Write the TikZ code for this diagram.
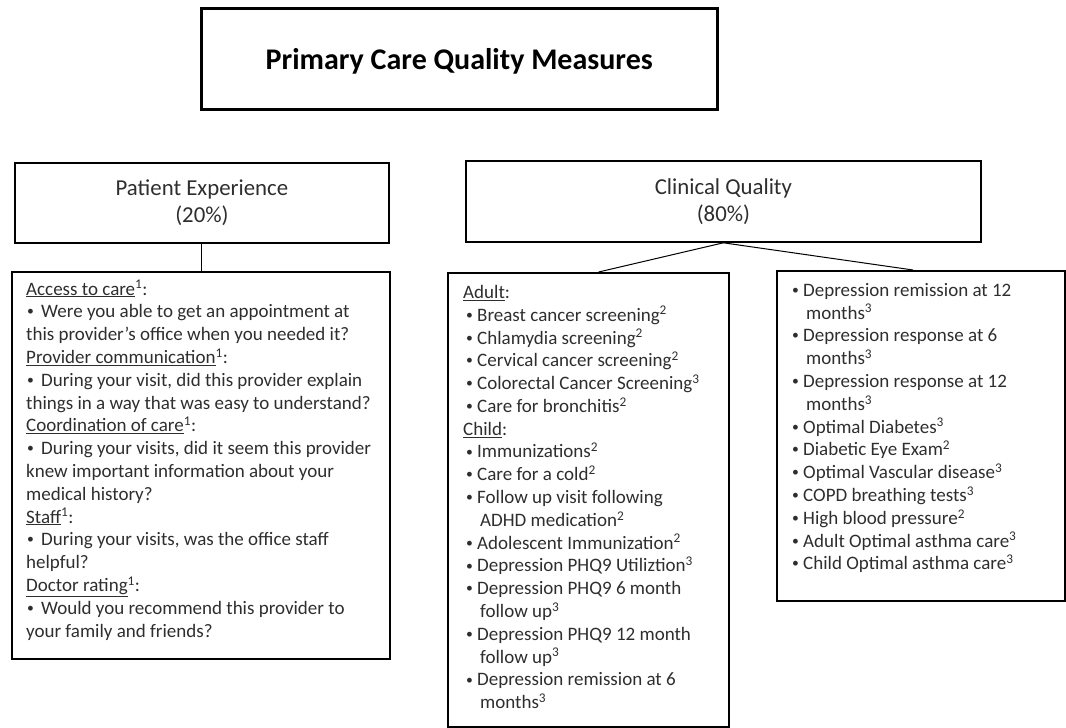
\documentclass[tikz,border=0pt]{standalone}
\usepackage{fontspec}
\setmainfont{Carlito}
\usepackage{graphicx}
\usepackage{tikz}
\definecolor{TextGray}{HTML}{2E2E2E}
\newcommand{\smallbul}{\raisebox{.1em}{\scalebox{.72}{\textbullet}}}
\newcommand{\lbul}{\makebox[15pt][l]{\hspace{1pt}\smallbul}}
\newcommand{\bul}{\hspace*{3pt}\makebox[11pt][l]{\smallbul}}
\newcommand{\cont}{\hspace*{17pt}}
\newcommand{\fn}[1]{\textsuperscript{#1}}

\begin{document}
\begin{tikzpicture}[x=1pt,y=-1pt,
  box/.style={draw,line width=2.2pt,inner sep=0pt,anchor=north west},
  head/.style={box,line width=1.8pt,align=center,text=TextGray,
    font=\fontsize{22.8}{27}\selectfont},
  list/.style={align=left,anchor=north west,inner sep=0pt,text=TextGray,
    font=\fontsize{19}{22.8}\selectfont}]
\useasboundingbox (0,0) rectangle (1066,728);
\node[box,line width=2.6pt,minimum width=516pt,minimum height=101pt,
  text height=27pt,text depth=6pt,
  font=\bfseries\fontsize{30}{33}\selectfont] (title) at (200,7)
  {Primary Care Quality Measures};
\node[head,minimum width=374pt,minimum height=80pt] (patient) at (14,162)
  {Patient Experience\\(20\%)};
\node[head,minimum width=515pt,minimum height=81pt] (clinical) at (465,160)
  {Clinical Quality\\(80\%)};
\node[box,minimum width=378pt,minimum height=387pt] (access) at (11,271) {};
\node[box,minimum width=281pt,minimum height=454pt] (adult) at (447,272) {};
\node[box,minimum width=288pt,minimum height=330pt] (other) at (776,270) {};
\draw[line width=1pt] (patient.south) -- (patient.south |- access.north);
\draw[line width=1pt] (clinical.south) -- ([xshift=10pt]adult.north);
\draw[line width=1pt] (clinical.south) -- ([xshift=-8pt]other.north);
\node[list] (accesstxt) at (26,280) {%
  \underline{Access to care}\fn{1}:\\
  \lbul Were you able to get an appointment at\\
  this provider’s office when you needed it?\\
  \underline{Provider communication}\fn{1}:\\
  \lbul During your visit, did this provider explain\\
  things in a way that was easy to understand?\\
  \underline{Coordination of care}\fn{1}:\\
  \lbul During your visits, did it seem this provider\\
  knew important information about your\\
  medical history?\\
  \underline{Staff}\fn{1}:\\
  \lbul During your visits, was the office staff\\
  helpful?\\
  \underline{Doctor rating}\fn{1}:\\
  \lbul Would you recommend this provider to\\
  your family and friends?};
\node[list] (adulttxt) at (463,285) {%
  \underline{Adult}:\\
  \bul Breast cancer screening\fn{2}\\
  \bul Chlamydia screening\fn{2}\\
  \bul Cervical cancer screening\fn{2}\\
  \bul Colorectal Cancer Screening\fn{3}\\
  \bul Care for bronchitis\fn{2}\\
  \underline{Child}:\\
  \bul Immunizations\fn{2}\\
  \bul Care for a cold\fn{2}\\
  \bul Follow up visit following\\
  \cont ADHD medication\fn{2}\\
  \bul Adolescent Immunization\fn{2}\\
  \bul Depression PHQ9 Utiliztion\fn{3}\\
  \bul Depression PHQ9 6 month\\
  \cont follow up\fn{3}\\
  \bul Depression PHQ9 12 month\\
  \cont follow up\fn{3}\\
  \bul Depression remission at 6\\
  \cont months\fn{3}};
\node[list] (othertxt) at (789,283) {%
  \bul Depression remission at 12\\
  \cont months\fn{3}\\
  \bul Depression response at 6\\
  \cont months\fn{3}\\
  \bul Depression response at 12\\
  \cont months\fn{3}\\
  \bul Optimal Diabetes\fn{3}\\
  \bul Diabetic Eye Exam\fn{2}\\
  \bul Optimal Vascular disease\fn{3}\\
  \bul COPD breathing tests\fn{3}\\
  \bul High blood pressure\fn{2}\\
  \bul Adult Optimal asthma care\fn{3}\\
  \bul Child Optimal asthma care\fn{3}};
\end{tikzpicture}
\end{document}
